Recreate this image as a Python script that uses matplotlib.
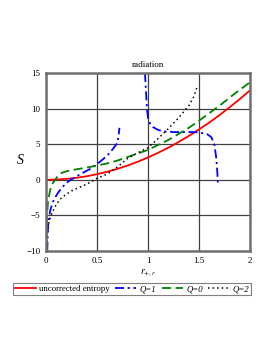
import numpy as np
import matplotlib
matplotlib.use("Agg")
import matplotlib.pyplot as plt

plt.rcParams['font.family'] = ['Liberation Serif', 'DejaVu Serif']
plt.rcParams['mathtext.fontset'] = 'stix'

# uncorrected entropy
r_unc = [0.0, 0.1, 0.2, 0.3, 0.4, 0.5, 0.6, 0.7, 0.8, 0.9, 1.0, 1.1, 1.2, 1.3, 1.4, 1.5, 1.6, 1.7, 1.8, 1.9, 2.0]
s_unc = [0.0, 0.03, 0.13, 0.28, 0.5, 0.79, 1.13, 1.54, 2.01, 2.54, 3.14, 3.8, 4.52, 5.31, 6.16, 7.07, 8.04, 9.08, 10.18, 11.34, 12.57]

# Q=1 two branches
r_q1a = [0.012, 0.02, 0.04, 0.06, 0.08, 0.11, 0.15, 0.19, 0.23, 0.28, 0.35, 0.43, 0.5, 0.56, 0.62, 0.66, 0.70, 0.71, 0.72]
s_q1a = [-10.0, -6.5, -4.4, -3.4, -2.7, -2.0, -1.2, -0.6, -0.1, 0.3, 0.9, 1.5, 2.2, 2.9, 3.7, 4.4, 5.2, 6.0, 7.3]
r_q1b = [0.97, 0.98, 0.99, 1.0, 1.02, 1.05, 1.1, 1.15, 1.25, 1.35, 1.45, 1.52, 1.58, 1.62, 1.65, 1.67, 1.68, 1.685]
s_q1b = [15.0, 12.5, 10.0, 8.7, 7.9, 7.4, 7.0, 6.8, 6.7, 6.7, 6.7, 6.6, 6.4, 6.0, 5.0, 3.0, 1.0, -0.6]

# Q=0
r_q0 = [0.003, 0.006, 0.01, 0.02, 0.04, 0.06, 0.09, 0.12, 0.15, 0.2, 0.27, 0.35, 0.43, 0.5, 0.6, 0.7, 0.8, 0.9, 1.0, 1.2, 1.4, 1.5, 1.7, 1.85, 2.0]
s_q0 = [-10.0, -7.0, -5.0, -3.0, -1.5, -0.6, 0.0, 0.6, 0.95, 1.2, 1.4, 1.6, 1.8, 2.0, 2.3, 2.7, 3.2, 3.7, 4.2, 5.6, 7.3, 8.3, 10.4, 12.1, 13.7]

# Q=2
r_q2 = [0.006, 0.01, 0.02, 0.04, 0.06, 0.1, 0.14, 0.2, 0.27, 0.34, 0.4, 0.5, 0.6, 0.7, 0.8, 0.9, 1.0, 1.1, 1.2, 1.3, 1.4, 1.45, 1.48]
s_q2 = [-10.0, -8.0, -6.5, -5.4, -4.6, -3.5, -2.7, -2.0, -1.4, -1.0, -0.6, 0.2, 0.8, 1.8, 3.0, 3.8, 4.5, 5.8, 7.2, 8.7, 10.4, 11.7, 13.0]

xticks = [0, 0.5, 1, 1.5, 2]
xticklabels = ['0', '0.5', '1', '1.5', '2']
yticks = [-10, -5, 0, 5, 10, 15]
yticklabels = ['\u221210', '\u22125', '0', '5', '10', '15']

fig = plt.figure(figsize=(2.73, 3.53), dpi=100)
ax = fig.add_axes([46/273, 1-251/353, 204/273, 178/353])

ax.plot(r_unc, s_unc, color='#ff0000', lw=1.3, label='uncorrected entropy')
ax.plot(r_q1a, s_q1a, color='#0000ff', lw=1.3, dashes=(5, 2, 1.2, 2), label='Q=1')
ax.plot(r_q1b, s_q1b, color='#0000ff', lw=1.3, dashes=(5, 2, 1.2, 2))
ax.plot(r_q0, s_q0, color='#008000', lw=1.3, dashes=(5, 2.5), label='Q=0')
ax.plot(r_q2, s_q2, color='black', lw=1.1, dashes=(1, 2), label='Q=2')

ax.set_xlim(0, 2)
ax.set_ylim(-10, 15)
ax.set_xticks(xticks)
ax.set_xticklabels(xticklabels)
ax.set_yticks(yticks)
ax.set_yticklabels(yticklabels)
ax.tick_params(length=0, labelsize=6.5, pad=4)
ax.grid(True, color='#404040', lw=0.9)
ax.set_axisbelow(True)
for sp in ax.spines.values():
    sp.set_color('#707070')
    sp.set_linewidth(1.8)

ax.set_title('radiation', fontsize=6.5, pad=4)
fig.text(20/273, 1-161/353, 'S', fontsize=10, style='italic', ha='center', va='center')
fig.text(148/273, 1-273/353, r'$r_{+,r}$', fontsize=7, ha='center', va='center')

handles, labels = ax.get_legend_handles_labels()
labels = ['uncorrected entropy', 'Q=1', 'Q=0', 'Q=2']
leg = fig.legend(handles, labels, loc='center', bbox_to_anchor=(132/273, 1-289/353),
                 ncol=4, fontsize=6.3, frameon=True, fancybox=False, edgecolor='#606060',
                 handlelength=2.4, handletextpad=0.4, columnspacing=0.6, borderpad=0.2,
                 borderaxespad=0)
leg.get_frame().set_linewidth(0.8)
for t in leg.get_texts()[1:]:
    t.set_style('italic')

fig.savefig('out.png', dpi=100)
